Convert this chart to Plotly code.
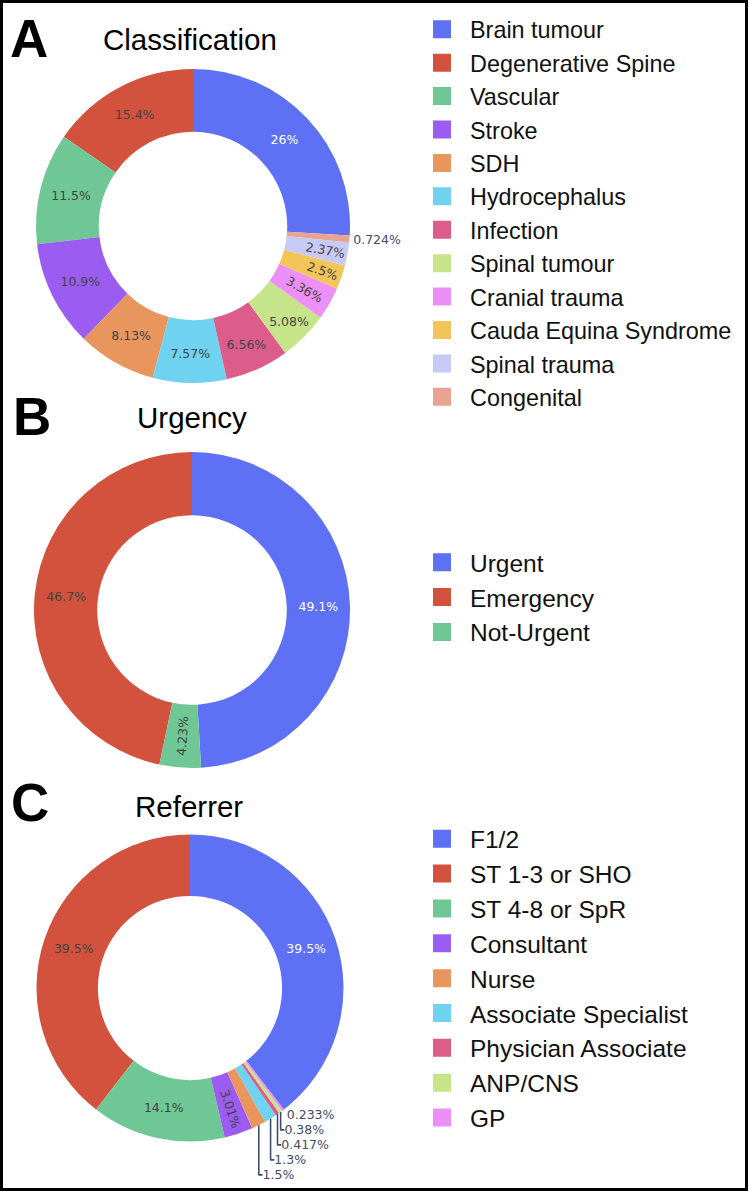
import plotly.graph_objects as go

# ---- data ----
class_labels = ["Brain tumour", "Degenerative Spine", "Vascular", "Stroke", "SDH",
                "Hydrocephalus", "Infection", "Spinal tumour", "Cranial trauma",
                "Cauda Equina Syndrome", "Spinal trauma", "Congenital"]
class_values = [25.96, 15.37, 11.48, 10.896, 8.13, 7.57, 6.56, 5.08, 3.36, 2.5, 2.37, 0.724]

urg_labels = ["Urgent", "Emergency", "Not-Urgent"]
urg_values = [49.1, 46.7, 4.23]

ref_labels = ["F1/2", "ST 1-3 or SHO", "ST 4-8 or SpR", "Consultant", "Nurse",
              "Associate Specialist", "Physician Associate", "ANP/CNS", "GP"]
ref_values = [39.5, 39.5, 14.1, 3.01, 1.5, 1.3, 0.417, 0.38, 0.233]

panel_titles = ["Classification", "Urgency", "Referrer"]
panel_letters = ["A", "B", "C"]

# slice colours (as they appear in the reference)
palette = ["#5E71F5", "#D2523D", "#6FC795", "#9B5CF2", "#E9955E", "#6FD2F0",
           "#DC5D8A", "#C6E48A", "#EC8FF6", "#F2C45A", "#C8CAF6", "#E8A393"]
# label colour inside each slice: white on the first (blue) slice, dark grey elsewhere
inside_text = ["#ffffff"] + ["#444444"] * 11

W, H = 749, 1194


def dom(cx, cy, r):
    return dict(x=[(cx - r) / W, (cx + r) / W], y=[1 - (cy + r) / H, 1 - (cy - r) / H])


def px(x):
    return x / W


def py(y):
    return 1 - y / H


def make_pie(labels, values, cx, cy, r, legend):
    n = len(labels)
    return go.Pie(labels=labels, values=values, hole=0.6,
                  marker=dict(colors=palette[:n]),
                  domain=dom(cx, cy, r),
                  insidetextfont=dict(family="DejaVu Sans", size=12.5, color=inside_text[:n]),
                  outsidetextfont=dict(family="DejaVu Sans", size=12.5, color="#3f4a66"),
                  automargin=False, legend=legend, sort=True)


fig = go.Figure()
fig.add_trace(make_pie(class_labels, class_values, 193, 226, 157, "legend"))
fig.add_trace(make_pie(urg_labels, urg_values, 192, 610, 158, "legend2"))
fig.add_trace(make_pie(ref_labels, ref_values, 190, 988, 153.5, "legend3"))

leg_common = dict(xanchor="left", yanchor="top", itemwidth=46, bgcolor="rgba(0,0,0,0)")
fig.update_layout(
    width=W, height=H,
    margin=dict(l=0, r=0, t=0, b=0),
    paper_bgcolor="white",
    font=dict(family="DejaVu Sans"),
    legend=dict(x=px(414), y=py(7.5), font=dict(family="Liberation Sans", size=23.4, color="#111"), **leg_common),
    legend2=dict(x=px(414), y=py(539.8), font=dict(family="Liberation Sans", size=24.5, color="#111"), **leg_common),
    legend3=dict(x=px(414), y=py(816.3), font=dict(family="Liberation Sans", size=24.5, color="#111"), **leg_common),
)

letter_pos = [(8, 39), (11, 416), (9, 802)]
title_pos = [(190, 39.5), (192, 417), (189, 806.5)]
for (lx, ly), letter in zip(letter_pos, panel_letters):
    fig.add_annotation(text="<b>" + letter + "</b>", x=px(lx), y=py(ly), xref="paper", yref="paper",
                       xanchor="left", yanchor="middle", showarrow=False,
                       font=dict(family="Liberation Sans", size=53, color="black"))
for (tx, ty), title in zip(title_pos, panel_titles):
    fig.add_annotation(text=title, x=px(tx), y=py(ty), xref="paper", yref="paper",
                       xanchor="center", yanchor="middle", showarrow=False,
                       font=dict(family="Liberation Sans", size=29.5, color="black"))

fig.add_shape(type="rect", xref="paper", yref="paper",
              x0=px(1.5), x1=px(746.5), y0=py(1189.5), y1=py(1.5),
              line=dict(color="black", width=3))

post = """
document.body.style.margin = '0';
document.querySelectorAll('.legendpie').forEach(function(p){ p.setAttribute('d','M9,9H-9V-9H9Z'); });
"""
fig.write_html("out.html", post_script=post, config={"displayModeBar": False})
